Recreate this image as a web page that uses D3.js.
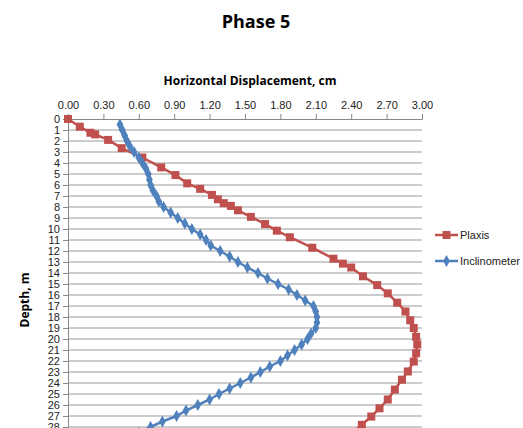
<!DOCTYPE html>
<html>
<head>
<meta charset="utf-8">
<script src="https://cdn.jsdelivr.net/npm/d3@7"></script>
<style>
  body { margin: 0; background: #fff; }
  text { font-family: "Liberation Sans Narrow", "Liberation Sans", Arial, sans-serif; }
</style>
</head>
<body>
<svg id="chart"></svg>
<script>
let w = 523;
let h = 428;

// Plaxis (FE model) – displacement (cm) and depth (m)
let plaxisDisp = [0, 0.10, 0.19, 0.23, 0.34, 0.455, 0.63, 0.79, 0.91, 1.01, 1.12, 1.22, 1.27, 1.32, 1.38, 1.44,
  1.55, 1.67, 1.77, 1.88, 2.07, 2.25, 2.33, 2.40, 2.50, 2.62, 2.71, 2.79, 2.86, 2.90, 2.93, 2.95, 2.96,
  2.95, 2.93, 2.88, 2.83, 2.77, 2.71, 2.64, 2.57, 2.49, 2.40];
let plaxisDepth = [0, 0.7, 1.25, 1.4, 1.9, 2.65, 3.5, 4.4, 5.1, 5.85, 6.35, 6.9, 7.3, 7.65, 7.9, 8.3,
  8.9, 9.55, 10.15, 10.75, 11.7, 12.7, 13.15, 13.5, 14.3, 15.1, 15.85, 16.7, 17.5, 18.3, 19.0, 19.8, 20.5,
  21.3, 22.05, 22.95, 23.7, 24.6, 25.5, 26.3, 27.05, 27.8, 28.6];

// Inclinometer readings every 0.5 m
let incDepth = [0.5, 1, 1.5, 2, 2.5, 3, 3.5, 4, 4.5, 5, 5.5, 6, 6.5, 7, 7.5, 8, 8.5, 9, 9.5, 10,
  10.5, 11, 11.5, 12, 12.5, 13, 13.5, 14, 14.5, 15, 15.5, 16, 16.5, 17, 17.5, 18, 18.5, 19, 19.5, 20,
  20.5, 21, 21.5, 22, 22.5, 23, 23.5, 24, 24.5, 25, 25.5, 26, 26.5, 27, 27.5, 28, 28.5];
let incDisp = [0.44, 0.46, 0.48, 0.50, 0.525, 0.56, 0.60, 0.63, 0.66, 0.68, 0.69, 0.70, 0.72, 0.75, 0.77, 0.81, 0.87, 0.93, 0.99, 1.05,
  1.12, 1.17, 1.21, 1.29, 1.37, 1.44, 1.52, 1.61, 1.69, 1.78, 1.87, 1.94, 2.01, 2.08, 2.10, 2.11, 2.11, 2.10, 2.06, 2.03,
  1.98, 1.92, 1.86, 1.80, 1.71, 1.63, 1.55, 1.46, 1.37, 1.28, 1.20, 1.10, 1.00, 0.92, 0.80, 0.70, 0.60];

let xTicks = [0, 0.3, 0.6, 0.9, 1.2, 1.5, 1.8, 2.1, 2.4, 2.7, 3.0];
let depthTicks = d3.range(0, 29);

let seriesNames = ["Plaxis", "Inclinometer"];
let seriesColors = ["#C0504D", "#4F81BD"];

let plaxis = plaxisDisp.map((d, i) => ({x: d, y: plaxisDepth[i]}));
let incl = incDisp.map((d, i) => ({x: d, y: incDepth[i]}));

let svg = d3.select("#chart").attr("width", w).attr("height", h);

let xScale = d3.scaleLinear().domain([0, 3]).range([68, 422]);
let yScale = d3.scaleLinear().domain([0, 30]).range([119, 449]);

// title
svg.append("text")
  .attr("x", 256).attr("y", 28)
  .attr("text-anchor", "middle")
  .style("font-family", "'Open Sans', sans-serif")
  .style("font-size", "18px").style("font-weight", "bold")
  .text("Phase 5");

// gridlines
svg.append("g")
  .selectAll("line")
  .data(d3.range(1, 31))
  .enter()
  .append("line")
  .attr("x1", xScale(0)).attr("x2", xScale(3))
  .attr("y1", (d) => yScale(d)).attr("y2", (d) => yScale(d))
  .attr("stroke", "#999").attr("stroke-width", 1);

// x axis on top
let xAxis = d3.axisTop(xScale).tickValues(xTicks).tickFormat(d3.format(".2f")).tickSizeInner(5).tickSizeOuter(5);
let xAxisGroup = svg.append("g").attr("transform", `translate(0,${yScale(0)})`).call(xAxis);
xAxisGroup.selectAll("text").style("font-size", "11px").attr("fill", "#222").attr("dy", "-2");
xAxisGroup.selectAll("path, line").attr("stroke", "#888");

// y axis
let yAxis = d3.axisLeft(yScale).tickValues(depthTicks).tickFormat(d3.format("d")).tickSizeInner(5).tickSizeOuter(0);
let yAxisGroup = svg.append("g").attr("transform", `translate(${xScale(0)},0)`).call(yAxis);
yAxisGroup.selectAll("text").style("font-size", "11px").attr("fill", "#222").attr("x", -8);
yAxisGroup.selectAll("path, line").attr("stroke", "#888");

// axis titles
svg.append("text")
  .attr("x", 250).attr("y", 85)
  .attr("text-anchor", "middle")
  .style("font-family", "'Open Sans', sans-serif")
  .style("font-size", "12px").style("font-weight", "bold")
  .text("Horizontal Displacement, cm");

svg.append("text")
  .attr("transform", "translate(29,300) rotate(-90)")
  .attr("text-anchor", "middle")
  .style("font-family", "'Open Sans', sans-serif")
  .style("font-size", "12px").style("font-weight", "bold")
  .text("Depth, m");

// lines
let line = d3.line().x((d) => xScale(d.x)).y((d) => yScale(d.y));
let plot = svg.append("g");

plot.append("path").datum(plaxis)
  .attr("d", line).attr("fill", "none")
  .attr("stroke", seriesColors[0]).attr("stroke-width", 2.5);
plot.append("path").datum(incl)
  .attr("d", line).attr("fill", "none")
  .attr("stroke", seriesColors[1]).attr("stroke-width", 2.5);

let square = d3.symbol().type(d3.symbolSquare).size(64);
let diamond = d3.symbol().type(d3.symbolDiamond).size(40);

plot.selectAll(".plaxis")
  .data(plaxis)
  .enter()
  .append("path")
  .attr("class", "plaxis")
  .attr("d", square)
  .attr("transform", (d) => `translate(${xScale(d.x)},${yScale(d.y)})`)
  .attr("fill", seriesColors[0]);

plot.selectAll(".incl")
  .data(incl)
  .enter()
  .append("path")
  .attr("class", "incl")
  .attr("d", diamond)
  .attr("transform", (d) => `translate(${xScale(d.x)},${yScale(d.y)})`)
  .attr("fill", seriesColors[1]);

// legend
let legend = svg.append("g");
let legendSymbols = [square, diamond];
seriesNames.forEach((name, i) => {
  let ly = 235 + i * 26;
  legend.append("line")
    .attr("x1", 435).attr("x2", 458).attr("y1", ly).attr("y2", ly)
    .attr("stroke", seriesColors[i]).attr("stroke-width", 2.5);
  legend.append("path")
    .attr("d", legendSymbols[i])
    .attr("transform", `translate(446.5,${ly})`)
    .attr("fill", seriesColors[i]);
  legend.append("text")
    .attr("x", 460).attr("y", ly + 4)
    .style("font-size", "11px").attr("fill", "#222")
    .text(name);
});
</script>
</body>
</html>
